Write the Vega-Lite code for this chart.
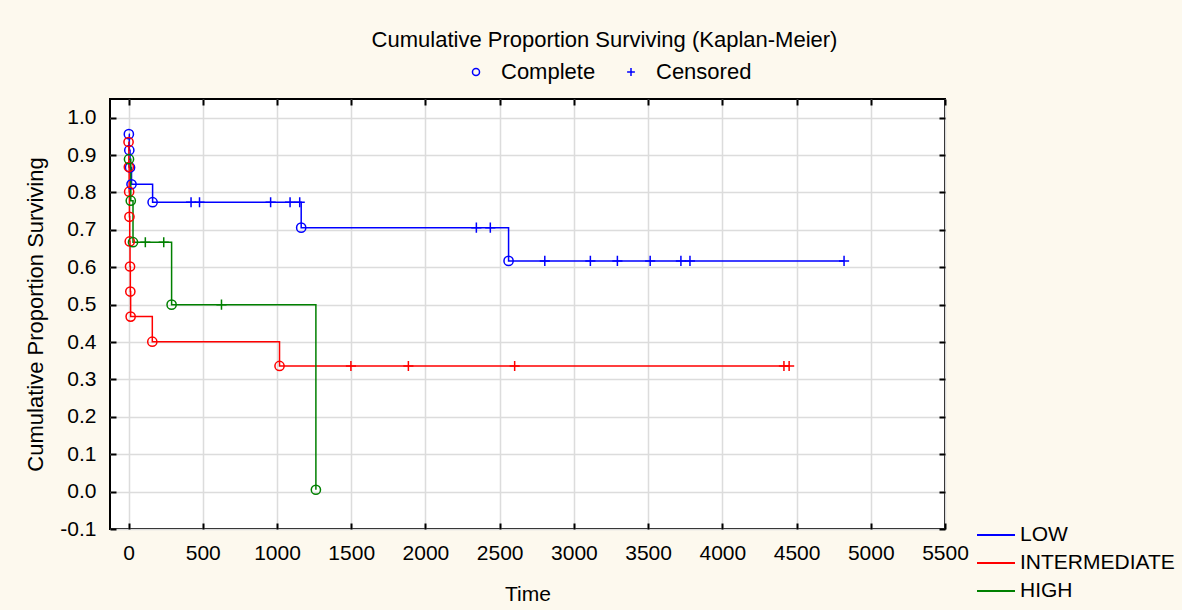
{
  "$schema": "https://vega.github.io/schema/vega-lite/v6.json",
  "autosize": "none",
  "width": 835,
  "height": 430,
  "padding": {"left": 110, "top": 99, "right": 237, "bottom": 81},
  "background": "#fdf9ee",
  "config": {
    "font": "Liberation Sans",
    "view": {"fill": "white", "stroke": "black", "strokeWidth": 2}
  },
  "title": {
    "text": "Cumulative Proportion Surviving (Kaplan-Meier)",
    "anchor": "middle",
    "dx": 77,
    "offset": 9,
    "fontSize": 22,
    "fontWeight": "normal",
    "color": "black",
    "font": "Liberation Sans"
  },
  "data": {
    "values": [
      {"group": "LOW", "time": 2, "surv": 0.956, "type": "Complete"},
      {"group": "LOW", "time": 5, "surv": 0.913, "type": "Complete"},
      {"group": "LOW", "time": 10, "surv": 0.867, "type": "Complete"},
      {"group": "LOW", "time": 20, "surv": 0.822, "type": "Complete"},
      {"group": "LOW", "time": 162, "surv": 0.774, "type": "Complete"},
      {"group": "LOW", "time": 421, "surv": 0.774, "type": "Censored"},
      {"group": "LOW", "time": 478, "surv": 0.774, "type": "Censored"},
      {"group": "LOW", "time": 957, "surv": 0.774, "type": "Censored"},
      {"group": "LOW", "time": 1088, "surv": 0.774, "type": "Censored"},
      {"group": "LOW", "time": 1153, "surv": 0.774, "type": "Censored"},
      {"group": "LOW", "time": 1163, "surv": 0.706, "type": "Complete"},
      {"group": "LOW", "time": 2343, "surv": 0.706, "type": "Censored"},
      {"group": "LOW", "time": 2437, "surv": 0.706, "type": "Censored"},
      {"group": "LOW", "time": 2560, "surv": 0.617, "type": "Complete"},
      {"group": "LOW", "time": 2804, "surv": 0.617, "type": "Censored"},
      {"group": "LOW", "time": 3111, "surv": 0.617, "type": "Censored"},
      {"group": "LOW", "time": 3293, "surv": 0.617, "type": "Censored"},
      {"group": "LOW", "time": 3514, "surv": 0.617, "type": "Censored"},
      {"group": "LOW", "time": 3721, "surv": 0.617, "type": "Censored"},
      {"group": "LOW", "time": 3782, "surv": 0.617, "type": "Censored"},
      {"group": "LOW", "time": 4820, "surv": 0.617, "type": "Censored"},
      {"group": "INTERMEDIATE", "time": 0, "surv": 0.935, "type": "Complete"},
      {"group": "INTERMEDIATE", "time": 2, "surv": 0.868, "type": "Complete"},
      {"group": "INTERMEDIATE", "time": 4, "surv": 0.802, "type": "Complete"},
      {"group": "INTERMEDIATE", "time": 6, "surv": 0.735, "type": "Complete"},
      {"group": "INTERMEDIATE", "time": 8, "surv": 0.669, "type": "Complete"},
      {"group": "INTERMEDIATE", "time": 10, "surv": 0.602, "type": "Complete"},
      {"group": "INTERMEDIATE", "time": 12, "surv": 0.535, "type": "Complete"},
      {"group": "INTERMEDIATE", "time": 14, "surv": 0.468, "type": "Complete"},
      {"group": "INTERMEDIATE", "time": 160, "surv": 0.401, "type": "Complete"},
      {"group": "INTERMEDIATE", "time": 1017, "surv": 0.336, "type": "Complete"},
      {"group": "INTERMEDIATE", "time": 1498, "surv": 0.336, "type": "Censored"},
      {"group": "INTERMEDIATE", "time": 1885, "surv": 0.336, "type": "Censored"},
      {"group": "INTERMEDIATE", "time": 2601, "surv": 0.336, "type": "Censored"},
      {"group": "INTERMEDIATE", "time": 4415, "surv": 0.336, "type": "Censored"},
      {"group": "INTERMEDIATE", "time": 4450, "surv": 0.336, "type": "Censored"},
      {"group": "HIGH", "time": 3, "surv": 0.889, "type": "Complete"},
      {"group": "HIGH", "time": 15, "surv": 0.778, "type": "Complete"},
      {"group": "HIGH", "time": 30, "surv": 0.667, "type": "Complete"},
      {"group": "HIGH", "time": 113, "surv": 0.667, "type": "Censored"},
      {"group": "HIGH", "time": 237, "surv": 0.667, "type": "Censored"},
      {"group": "HIGH", "time": 290, "surv": 0.5, "type": "Complete"},
      {"group": "HIGH", "time": 626, "surv": 0.5, "type": "Censored"},
      {"group": "HIGH", "time": 1262, "surv": 0.005, "type": "Complete"}
    ]
  },
  "resolve": {"axis": {"x": "independent", "y": "independent"}},
  "layer": [
    {
      "mark": {"type": "line", "interpolate": "step-after", "strokeWidth": 1.5},
      "encoding": {
        "x": {
          "field": "time", "type": "quantitative",
          "scale": {"domain": [-125, 5500], "nice": false, "zero": false},
          "axis": {
            "orient": "bottom", "title": "Time", "values": [0,500,1000,1500,2000,2500,3000,3500,4000,4500,5000,5500],
            "format": "d", "labelFlush": false, "grid": true, "gridColor": "#dcdcdc", "gridWidth": 1.5,
            "domain": false, "tickSize": -6, "tickWidth": 2, "tickColor": "black",
            "labelPadding": 19, "labelFontSize": 21, "labelColor": "black", "labelFont": "Liberation Sans",
            "titleFontSize": 21, "titleFontWeight": "normal", "titleColor": "black", "titlePadding": 20, "titleFont": "Liberation Sans"
          }
        },
        "y": {
          "field": "surv", "type": "quantitative",
          "scale": {"domain": [-0.1, 1.05], "nice": false, "zero": false},
          "axis": {
            "orient": "left", "title": "Cumulative Proportion Surviving",
            "values": [-0.1,0,0.1,0.2,0.3,0.4,0.5,0.6,0.7,0.8,0.9,1.0],
            "format": ".1f", "labelExpr": "replace(datum.label, '\u2212', '-')", "labelFlush": false,
            "grid": true, "gridColor": "#dcdcdc", "gridWidth": 1.5,
            "domain": false, "tickSize": -6, "tickWidth": 2, "tickColor": "black",
            "labelPadding": 20, "labelFontSize": 21, "labelColor": "black", "labelFont": "Liberation Sans",
            "titleFontSize": 22, "titleFontWeight": "normal", "titleColor": "black", "titlePadding": 12, "titleFont": "Liberation Sans"
          }
        },
        "color": {
          "field": "group", "type": "nominal",
          "scale": {"domain": ["LOW", "INTERMEDIATE", "HIGH"], "range": ["#0000ff", "#ff0000", "#008000"]},
          "legend": {
            "title": null, "orient": "none", "legendX": 866, "legendY": 422,
            "symbolType": "stroke", "symbolSize": 1444, "symbolStrokeWidth": 2,
            "labelFontSize": 21, "labelColor": "black", "labelFont": "Liberation Sans",
            "labelOffset": 4, "rowPadding": 0, "clipHeight": 28
          }
        }
      }
    },
    {
      "mark": {"type": "point", "filled": false, "strokeWidth": 1.5, "size": 85, "opacity": 1},
      "encoding": {
        "x": {
          "field": "time", "type": "quantitative",
          "axis": {"orient": "top", "title": null, "labels": false, "grid": false, "domain": false,
                   "values": [0,500,1000,1500,2000,2500,3000,3500,4000,4500,5000,5500],
                   "tickSize": -6, "tickWidth": 2, "tickColor": "black"}
        },
        "y": {
          "field": "surv", "type": "quantitative",
          "axis": {"orient": "right", "title": null, "labels": false, "grid": false, "domain": false,
                   "values": [-0.1,0,0.1,0.2,0.3,0.4,0.5,0.6,0.7,0.8,0.9,1.0],
                   "tickSize": -6, "tickWidth": 2, "tickColor": "black"}
        },
        "stroke": {
          "field": "group", "type": "nominal",
          "scale": {"domain": ["LOW", "INTERMEDIATE", "HIGH"], "range": ["#0000ff", "#ff0000", "#008000"]},
          "legend": null
        },
        "shape": {
          "field": "type", "type": "nominal",
          "scale": {"domain": ["Complete", "Censored"], "range": ["circle", "M0,-1.1V1.1M-1.1,0H1.1"]},
          "legend": {
            "title": null, "orient": "none", "direction": "horizontal", "legendX": 355, "legendY": -38,
            "symbolSize": 50, "symbolStrokeColor": "#0000ff", "symbolStrokeWidth": 1.5, "symbolFillColor": "transparent",
            "labelFontSize": 22, "labelColor": "black", "labelFont": "Liberation Sans",
            "labelOffset": 14, "columnPadding": 24
          }
        }
      }
    }
  ]
}
